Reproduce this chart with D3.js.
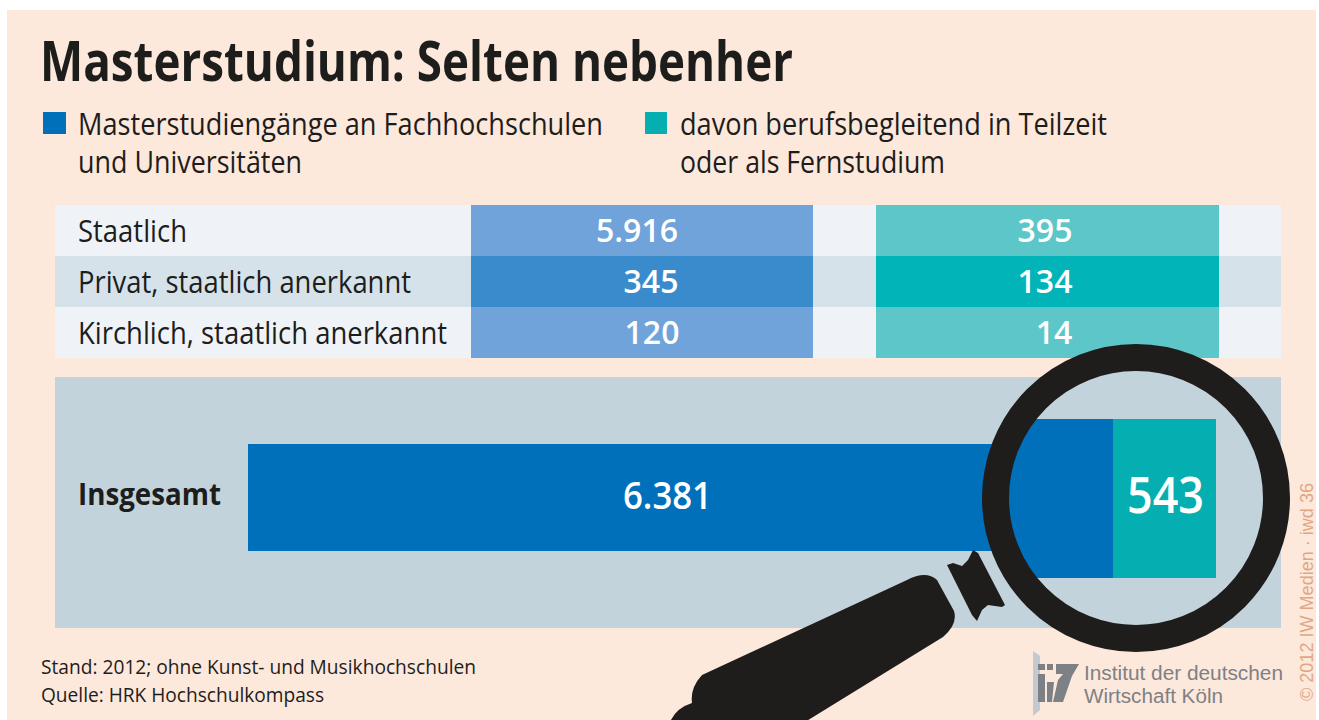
<!DOCTYPE html>
<html><head><meta charset="utf-8">
<script src="https://cdnjs.cloudflare.com/ajax/libs/d3/7.8.5/d3.min.js"></script>
<style>html,body{margin:0;background:#fff}svg{display:block}text{font-family:"Open Sans",sans-serif}</style>
</head><body><svg id="c" width="1319" height="720"></svg>
<script>
const titleText = "Masterstudium: Selten nebenher";
const legendA = ["Masterstudiengänge an Fachhochschulen","und Universitäten"];
const legendB = ["davon berufsbegleitend in Teilzeit","oder als Fernstudium"];
const categories = ["Staatlich","Privat, staatlich anerkannt","Kirchlich, staatlich anerkannt"];
const masterValues = [5916,345,120];
const partTimeValues = [395,134,14];
const totalLabel = "Insgesamt";
const totalMaster = 6381;
const totalPartTime = 543;
const footer = ["Stand: 2012; ohne Kunst- und Musikhochschulen","Quelle: HRK Hochschulkompass"];
const logoText = ["Institut der deutschen","Wirtschaft Köln"];
const credit = "© 2012 IW Medien · iwd 36";

const fmt = d3.formatLocale({decimal:",",thousands:".",grouping:[3],currency:["","€"]}).format(",d");
const svg = d3.select("#c");
function T(s,x,y,size,len,o={}){
  const t = svg.append("text").attr("x",x).attr("y",y).attr("font-size",size)
    .attr("fill",o.fill||"#1d1d1b").attr("font-weight",o.weight||400).text(s);
  if(o.family) t.style("font-family",o.family);
  if(o.anchor) t.attr("text-anchor",o.anchor);
  if(len) t.attr("textLength",len).attr("lengthAdjust","spacingAndGlyphs");
  return t;
}
svg.append("rect").attr("x",7).attr("y",10).attr("width",1309).attr("height",710).attr("fill","#fde8dc");

T(titleText,40,81,55,753,{weight:700});
svg.append("rect").attr("x",43).attr("y",112).attr("width",23).attr("height",22).attr("fill","#0070bb");
svg.append("rect").attr("x",645).attr("y",112).attr("width",22).attr("height",22).attr("fill","#05aeb0");
T(legendA[0],78,135,31,525); T(legendA[1],78,173,31,224);
T(legendB[0],680,135,31,427); T(legendB[1],680,173,31,265);

// table
const rowY = d3.scaleBand().domain(categories).range([205,358]);
const rowFill = ["#eff3f7","#d6e2ea","#eff3f7"], c1 = ["#70a3d9","#3a8bcc","#70a3d9"], c2 = ["#5dc6c9","#00b4b8","#5dc6c9"];
const labelLen = [109,333,369];
const c1x = [637,651,652], c2x = [1045,1045,1054];
categories.forEach((c,i)=>{
  const y=rowY(c), h=rowY.bandwidth();
  svg.append("rect").attr("x",55).attr("y",y).attr("width",1226).attr("height",h).attr("fill",rowFill[i]);
  svg.append("rect").attr("x",471).attr("y",y).attr("width",342).attr("height",h).attr("fill",c1[i]);
  svg.append("rect").attr("x",876).attr("y",y).attr("width",343).attr("height",h).attr("fill",c2[i]);
  T(c,78,y+37,31,labelLen[i]);
  T(fmt(masterValues[i]),c1x[i],y+37,32,null,{weight:600,fill:"#fff",anchor:"middle"});
  T(fmt(partTimeValues[i]),c2x[i],y+37,32,null,{weight:600,fill:"#fff",anchor:"middle"});
});

// total panel
svg.append("rect").attr("x",55).attr("y",377).attr("width",1226).attr("height",251).attr("fill","#c3d3dc");
T(totalLabel,78,505,31,143,{weight:700});
const x = d3.scaleLinear().domain([0,totalMaster]).range([248,1113]);
const xLens = d3.scaleLinear().domain([0,totalPartTime]).range([1113,1216]);
svg.append("rect").attr("x",x(0)).attr("y",444).attr("width",x(totalMaster)-x(0)).attr("height",107).attr("fill","#0070bb");
T(fmt(totalMaster),623,509,37,89,{weight:600,fill:"#fff"});

// magnifier
const cx=1136, cy=498, rInner=127, rOuter=154, rMid=(rInner+rOuter)/2;
svg.append("path").attr("d","M670 722Q676 708 692 703Q690 688 702 675L907 580Q926 570 937 580L954 611Q958 624 943 637L805 722Z").attr("fill","#1f1c1c");
const collar = [[947,565],[953,563],[962,566],[968,560],[973,550],[978,553],[1005,605],[1002,607],[988,605],[982,610],[977,621],[972,615]];
svg.append("path").attr("d",d3.line().curve(d3.curveLinearClosed)(collar)).attr("fill","#1f1c1c");
svg.append("clipPath").attr("id","lens").append("circle").attr("cx",cx).attr("cy",cy).attr("r",rMid);
const g = svg.append("g").attr("clip-path","url(#lens)");
g.append("circle").attr("cx",cx).attr("cy",cy).attr("r",rMid).attr("fill","#c3d3dc");
g.append("rect").attr("x",950).attr("y",419).attr("width",x(totalMaster)-950).attr("height",159).attr("fill","#0070bb");
g.append("rect").attr("x",xLens(0)).attr("y",419).attr("width",xLens(totalPartTime)-xLens(0)).attr("height",159).attr("fill","#05aeb0");
svg.append("circle").attr("cx",cx).attr("cy",cy).attr("r",rMid).attr("fill","none").attr("stroke","#1f1c1c").attr("stroke-width",rOuter-rInner);
T(fmt(totalPartTime),1127,513,50,77,{weight:600,fill:"#fff"});

// footer
T(footer[0],41,674,20,435); T(footer[1],41,702,20,283);

// logo
svg.append("path").attr("d","M1033 651L1040 656L1040 710L1033 716Z").attr("fill","#c3c9d0");
svg.append("path").attr("d","M1038 664H1045V670H1038ZM1047 664H1053V670H1047ZM1056 664H1079L1072 676L1063 702H1053L1058 680L1063 674H1056ZM1038 674H1045V702H1038ZM1047 682H1054L1052 702H1047Z").attr("fill","#7d8084");
T(logoText[0],1084,680,20,199,{family:'"Liberation Sans",sans-serif',fill:"#7d8185"});
T(logoText[1],1084,703,20,139,{family:'"Liberation Sans",sans-serif',fill:"#7d8185"});

// credit
svg.append("text").attr("transform","translate(1313,701) rotate(-90)").attr("font-size",18.5).attr("fill","#e2a684")
  .style("font-family",'"Liberation Sans",sans-serif').attr("textLength",218).attr("lengthAdjust","spacingAndGlyphs").text(credit);
</script></body></html>
